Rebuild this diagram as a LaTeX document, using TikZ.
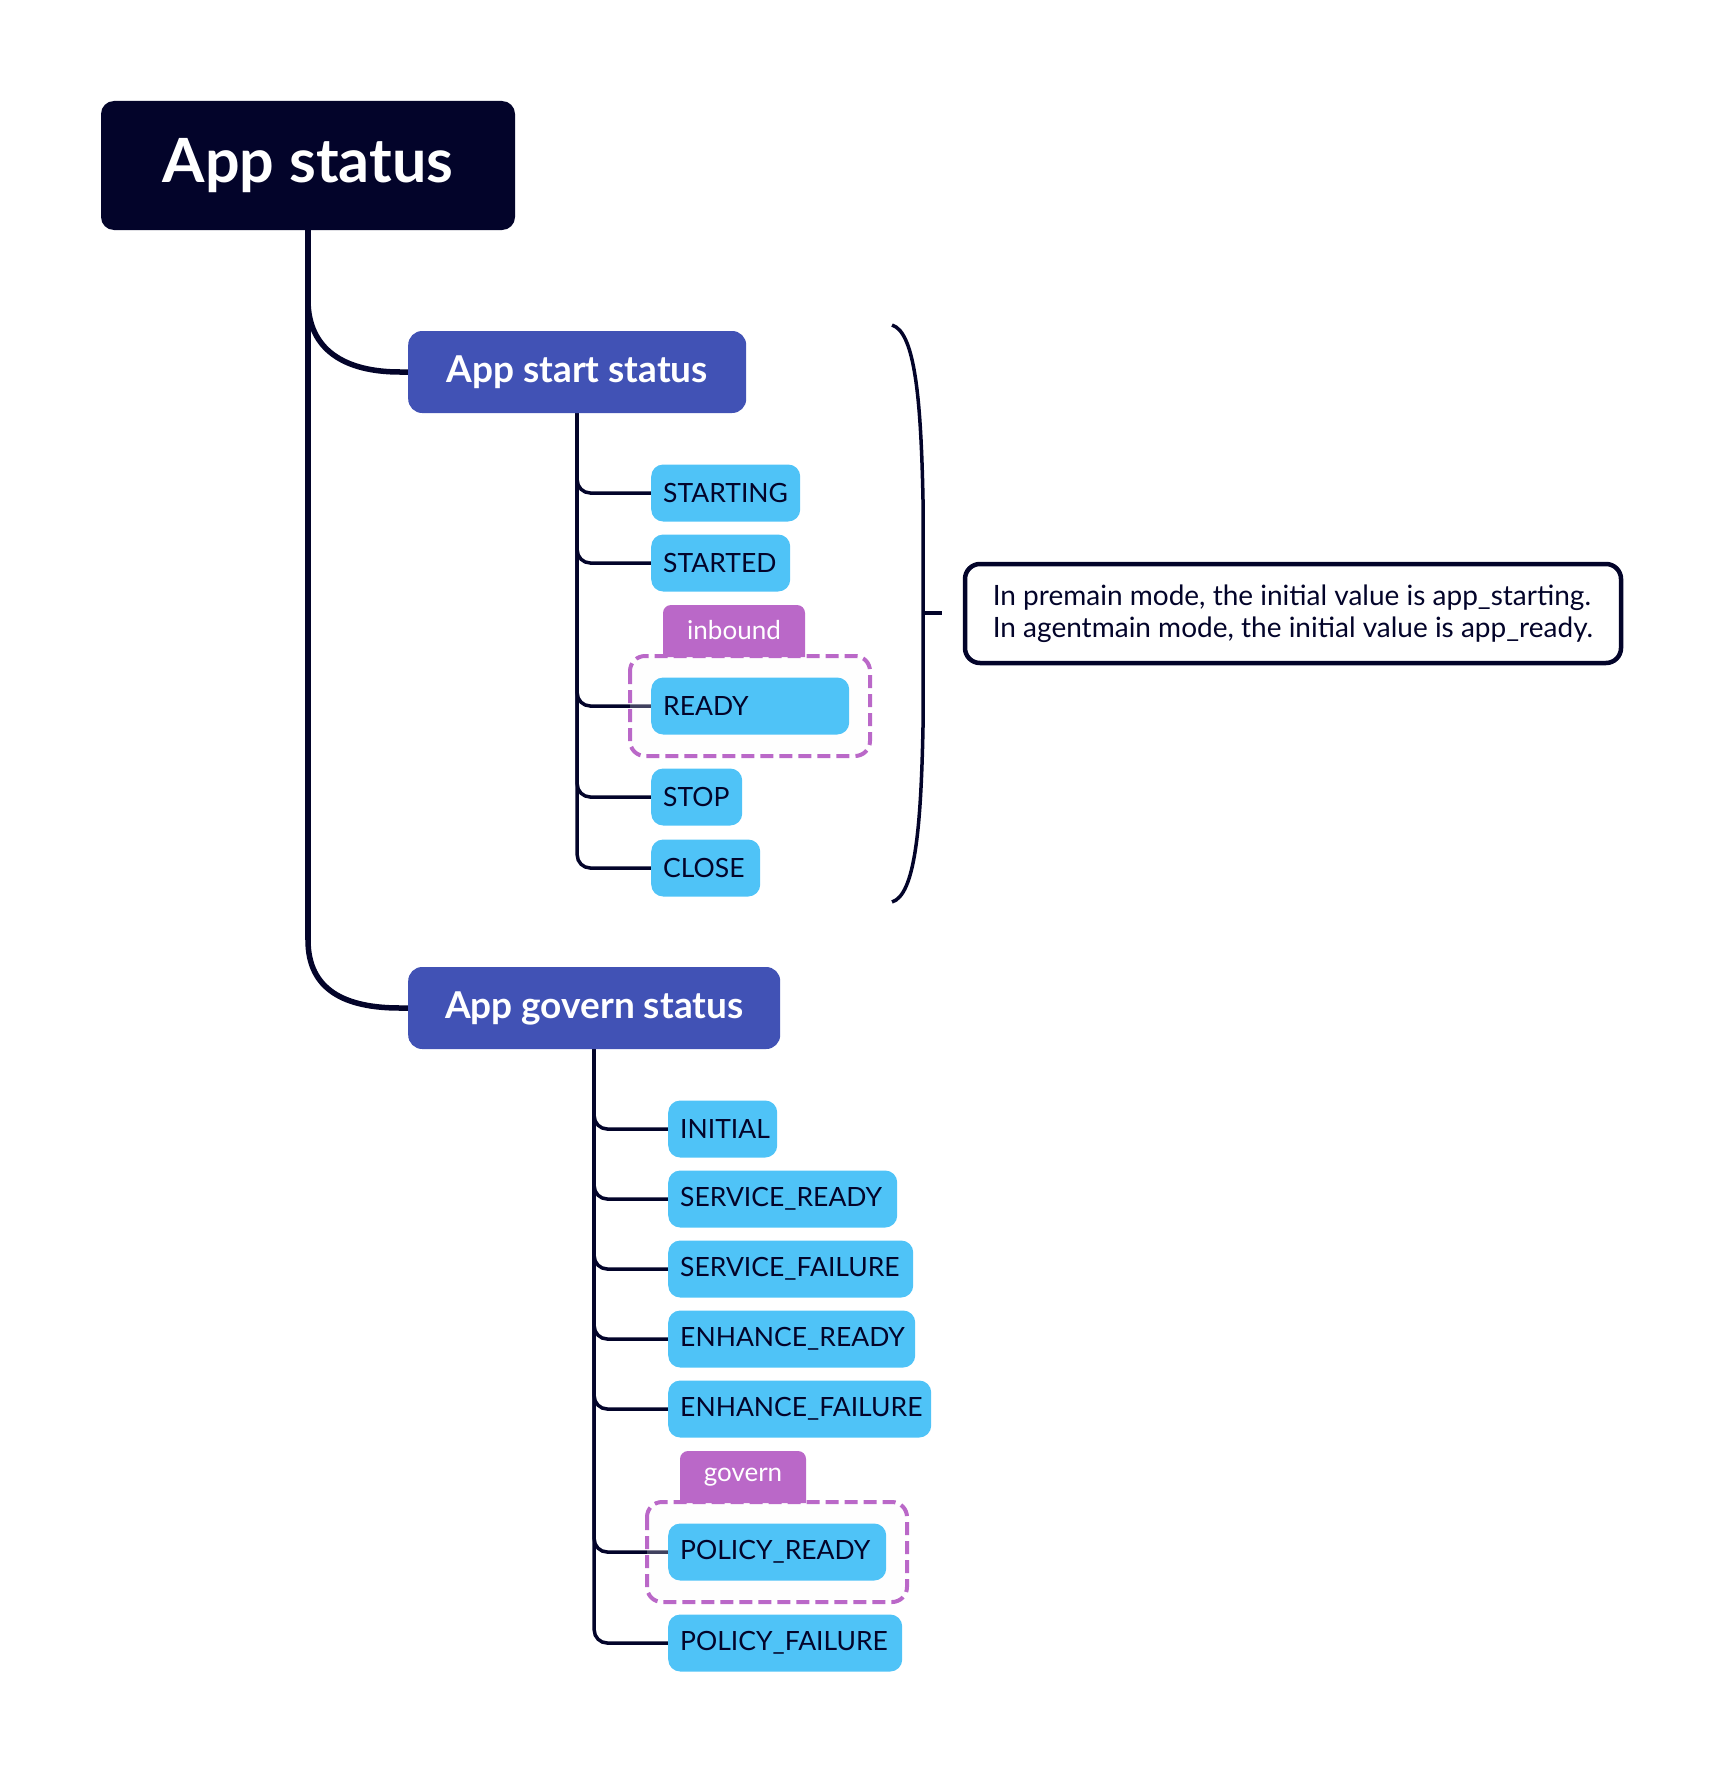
\documentclass[tikz,border=0pt]{standalone}
\usepackage{fontspec}
\setmainfont{Lato}
\definecolor{navy}{HTML}{03042A}
\definecolor{midblue}{HTML}{4152B5}
\definecolor{skyblue}{HTML}{4FC3F7}
\definecolor{tagpurple}{HTML}{BA68C8}
\definecolor{groupfill}{HTML}{FAFAFA}
\pgfdeclarelayer{background}
\pgfsetlayers{background,main}
\begin{document}
\begin{tikzpicture}[x=1pt,y=-1pt,
  rootbox/.style={rectangle, rounded corners=13, fill=navy, text=white,
    minimum width=414, minimum height=129, inner sep=0,
    font=\fontsize{61}{72}\selectfont\bfseries},
  midbox/.style={rectangle, rounded corners=14, fill=midblue, text=white,
    minimum height=82, inner sep=0, anchor=west,
    font=\fontsize{37}{44}\selectfont\bfseries},
  leafbox/.style={rectangle, rounded corners=12, fill=skyblue, text=navy,
    minimum height=57, inner xsep=12, inner ysep=0, anchor=west, align=left,
    font=\fontsize{26.5}{32}\selectfont},
  taglabel/.style={text=white, inner sep=0, font=\fontsize{26}{32}\selectfont},
  tagshape/.style={fill=tagpurple},
  groupbox/.style={draw=tagpurple, line width=4, dash pattern=on 13 off 6,
    rounded corners=15, fill=groupfill, fill opacity=0.25, draw opacity=1},
  trunk/.style={draw=navy, line width=5.5},
  branch/.style={draw=navy, line width=3.5, rounded corners=13},
  bracket/.style={draw=navy, line width=3.5},
  notebox/.style={rectangle, draw=navy, line width=4.5, rounded corners=15,
    minimum width=656, minimum height=99, inner sep=0, align=left,
    text=navy, font=\fontsize{28}{32}\selectfont},
]
\useasboundingbox (0,0) rectangle (1724,1774);

% main nodes
\node[rootbox] (root) at (308,165.5) {App status};
\node[midbox, minimum width=338] (start) at (408,372) {App start status};
\node[midbox, minimum width=372] (govern) at (408,1008) {App govern status};

% start status values
\node[leafbox, text width=125] (starting) at (651,493) {STARTING};
\node[leafbox, text width=115] (started) at (651,563) {STARTED};
\node[leafbox, text width=174] (ready) at (651,706) {READY};
\node[leafbox, text width=67] (stop) at (651,797) {STOP};
\node[leafbox, text width=85] (close) at (651,868) {CLOSE};

% govern status values
\node[leafbox, text width=85] (initial) at (668,1129) {INITIAL};
\node[leafbox, text width=205] (srvready) at (668,1199) {SERVICE\_READY};
\node[leafbox, text width=221] (srvfail) at (668,1269) {SERVICE\_FAILURE};
\node[leafbox, text width=223] (enhready) at (668,1339) {ENHANCE\_READY};
\node[leafbox, text width=239] (enhfail) at (668,1409) {ENHANCE\_FAILURE};
\node[leafbox, text width=194] (polready) at (668,1552) {POLICY\_READY};
\node[leafbox, text width=210] (polfail) at (668,1643) {POLICY\_FAILURE};

% group tags (purple tab with square lower corners)
\fill[tagshape] (663,657) {[rounded corners=8] -- (663,605) -- (805,605)} -- (805,657) -- cycle;
\fill[tagshape] (680,1503) {[rounded corners=8] -- (680,1451) -- (806,1451)} -- (806,1503) -- cycle;
\node[taglabel] (inboundlbl) at (734,630) {inbound};
\node[taglabel] (governlbl) at (743,1477) {govern};

\begin{pgfonlayer}{background}
  % trunk from the root to both groups
  \coordinate (forkA) at (308,300);
  \coordinate (forkB) at (308,940);
  \draw[trunk] (root.south) -- (forkB);
  \draw[trunk] (forkA) .. controls (308,350) and (345,372) .. (400,372) -- (start.west);
  \draw[trunk] (forkB) .. controls (308,990) and (345,1008) .. (400,1008) -- (govern.west);
  % branches to the values
  \foreach \leaf in {starting,started,ready,stop,close}
    \draw[branch] (start.south) |- (\leaf.west);
  \foreach \leaf in {initial,srvready,srvfail,enhready,enhfail,polready,polfail}
    \draw[branch] (govern.south) |- (\leaf.west);
  % dashed group frames
  \path[groupbox] (630,656) rectangle (870,756);
  \path[groupbox] (647,1502) rectangle (907,1602);
\end{pgfonlayer}

% bracket and note
\coordinate (bracetop) at (892,325);
\coordinate (bracebot) at (892,902);
\coordinate (bracemid) at (924,613);
\coordinate (bracetip) at (942,613);
\draw[bracket] (bracetop) .. controls (915,332) and (921,400) .. (923,500)
  -- (923,727) .. controls (921,828) and (915,895) .. (bracebot);
\draw[bracket] (bracemid) -- (bracetip);
\node[notebox] (note) at (1293,613.5) {In premain mode, the initial value is app\_starting.\\In agentmain mode, the initial value is app\_ready.};
\end{tikzpicture}
\end{document}
